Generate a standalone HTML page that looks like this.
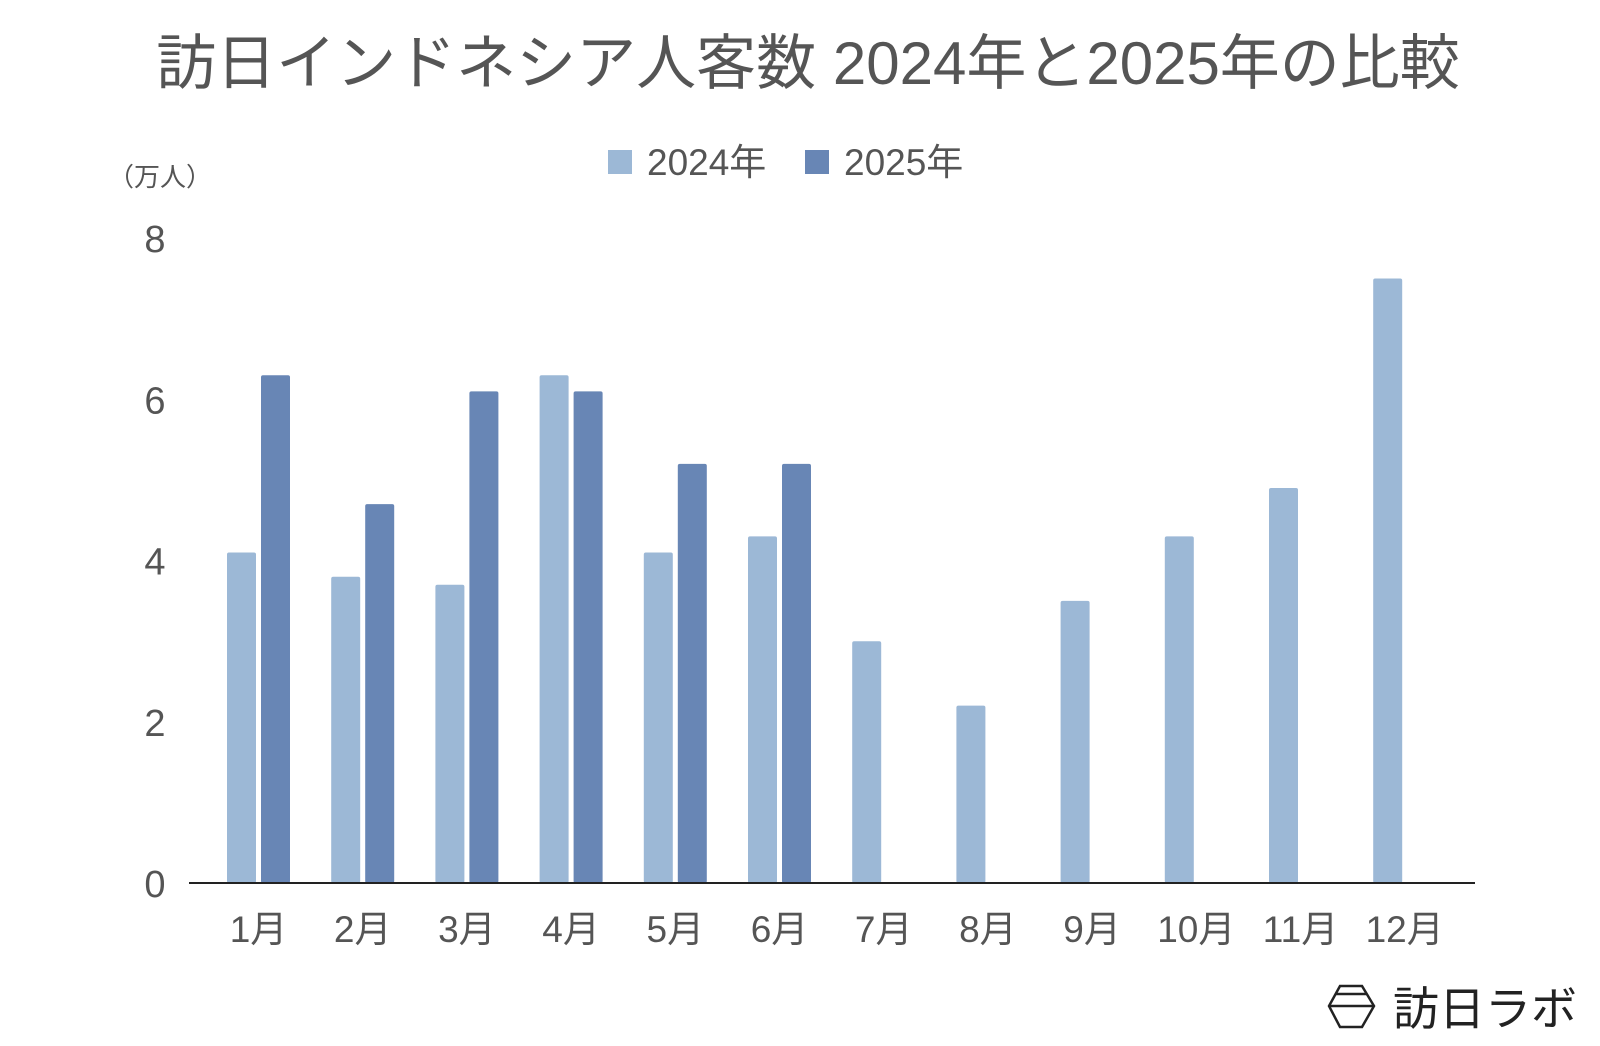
<!DOCTYPE html>
<html><head><meta charset="utf-8"><style>
body{margin:0;background:#fff;width:1600px;height:1041px;overflow:hidden;font-family:"Liberation Sans","Noto Sans CJK JP",sans-serif;}
svg text{font-family:"Liberation Sans","Noto Sans CJK JP",sans-serif;}
</style></head><body>
<svg id="c" width="1600" height="1041">
<text x="808" y="84" text-anchor="middle" font-size="60" fill="#555">訪日インドネシア人客数 2024年と2025年の比較</text>
<g>
<rect x="608" y="150" width="24" height="24" fill="#9cb8d6"/>
<text x="647" y="175" font-size="37" fill="#555">2024年</text>
<rect x="805" y="150" width="24" height="24" fill="#6886b5"/>
<text x="844" y="175" font-size="37" fill="#555">2025年</text>
</g>
<text x="160" y="186" text-anchor="middle" font-size="26" fill="#555">（万人）</text>
<g id="bars"></g>
<line x1="189" y1="883" x2="1475" y2="883" stroke="#222" stroke-width="2"/>
<g>
<polygon points="1340,986 1362,986 1374,1006 1362,1027 1340,1027 1329,1006" fill="none" stroke="#222" stroke-width="2.5"/>
<line x1="1329" y1="1006" x2="1374" y2="1006" stroke="#222" stroke-width="2.5"/>
<line x1="1336" y1="994" x2="1367" y2="994" stroke="#222" stroke-width="2.5"/>
<text x="1393" y="1025" font-size="46" fill="#222">訪日ラボ</text>
</g>
</svg>
<script>
const categories=["1月","2月","3月","4月","5月","6月","7月","8月","9月","10月","11月","12月"];
const values2024=[4.1,3.8,3.7,6.3,4.1,4.3,3.0,2.2,3.5,4.3,4.9,7.5];
const values2025=[6.3,4.7,6.1,6.1,5.2,5.2,null,null,null,null,null,null];
const yTicks=[0,2,4,6,8];
const NS="http://www.w3.org/2000/svg";
const g=document.getElementById('bars');
const y=v=>883-v*80.6;
const x=i=>258.5+104.2*i;
function mk(tag,attrs){const e=document.createElementNS(NS,tag);for(const k in attrs)e.setAttribute(k,attrs[k]);g.appendChild(e);return e;}
yTicks.forEach(t=>{
  const e=mk('text',{x:155,y:y(t)+14,'text-anchor':'middle','font-size':38,fill:'#555'});
  e.textContent=t;
  
  
});
categories.forEach((c,i)=>{
  const e=mk('text',{x:x(i),y:942,'text-anchor':'middle','font-size':37,fill:'#555'});
  e.textContent=c;
  
  
  const v1=values2024[i];
  if(v1!=null){
    const r=mk('rect',{x:x(i)-31.5,y:y(v1),width:29,height:883-y(v1),fill:'#9cb8d6',rx:2});
    
    
  }
  const v2=values2025[i];
  if(v2!=null){
    const r=mk('rect',{x:x(i)+2.5,y:y(v2),width:29,height:883-y(v2),fill:'#6886b5',rx:2});
    
    
  }
});
</script>
</body></html>
